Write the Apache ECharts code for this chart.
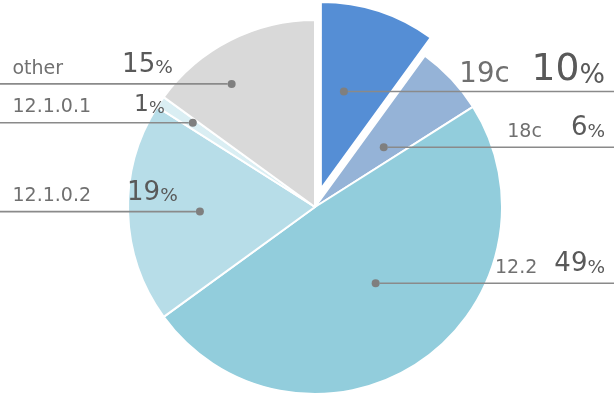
<!DOCTYPE html>
<html><head><meta charset="utf-8">
<script src="https://cdn.jsdelivr.net/npm/echarts@6/dist/echarts.min.js"></script>
<style>html,body{margin:0;padding:0;background:#fff}#c{width:616px;height:397px}</style>
</head><body><div id="c"></div>
<script>
// ---- data ----
const categories = ['19c', '18c', '12.2', '12.1.0.2', '12.1.0.1', 'other'];
const shares = [10, 6, 49, 19, 1, 15];
const selectedCategory = '19c';

// ---- styles / layout ----
const sliceColors = ['#558ED5', '#95B3D7', '#92CDDC', '#B7DDE8', '#DAEEF3', '#D9D9D9'];
const labelSide = ['right', 'right', 'right', 'left', 'left', 'left'];
const dotRadiusFrac = [0.535, 0.487, 0.521, 0.616, 0.794, 0.795];
const dotAngleShift = [-4.7, 2.2, -4.3, -0.5, 0.4, -7.1];
const nameScale = [1.45, 1, 1, 1, 1, 1];
const numScale = [1.45, 1, 1, 1, 0.9, 1];
const nameGap = [22, 29, 17, 36, 43, 59];

const CX = 315, CY = 207, R = 187, SEL_OFF = 19;
const RIGHT_EDGE = 614, DOT = 8;
const total = shares.reduce((a, b) => a + b, 0);
function midAngle(i) {
  let s = 0;
  for (let k = 0; k < i; k++) s += shares[k];
  return (s + shares[i] / 2) / total * 360;
}
function dotPos(i) {
  let cx = CX, cy = CY;
  if (categories[i] === selectedCategory) {
    const m = midAngle(i) * Math.PI / 180;
    cx += SEL_OFF * Math.sin(m);
    cy -= SEL_OFF * Math.cos(m);
  }
  const a = (midAngle(i) + dotAngleShift[i]) * Math.PI / 180;
  const r = R * dotRadiusFrac[i];
  return [cx + r * Math.sin(a), cy - r * Math.cos(a)];
}

const FONT = '"DejaVu Sans", Verdana, sans-serif';
const pieData = categories.map((name, i) => ({
  name: name,
  value: shares[i],
  selected: name === selectedCategory,
  itemStyle: { color: sliceColors[i] }
}));
const textData = categories.map((name, i) => {
  const ns = nameScale[i], vs = numScale[i];
  const lh = 26 * Math.max(ns, vs);
  return {
    name: name,
    value: shares[i],
    label: {
      rich: {
        n: { fontFamily: FONT, fontSize: 19 * ns, lineHeight: lh, color: '#707070', verticalAlign: 'bottom', padding: [0, nameGap[i], 0, 0] },
        v: { fontFamily: FONT, fontSize: 26 * vs, lineHeight: lh, color: '#595959', verticalAlign: 'bottom' },
        p: { fontFamily: FONT, fontSize: 18.5 * vs, lineHeight: lh, color: '#595959', verticalAlign: 'bottom' }
      }
    }
  };
});
const guideData = categories.map((name, i) => {
  const d = dotPos(i);
  const right = labelSide[i] === 'right';
  const len = right ? RIGHT_EDGE - d[0] - DOT / 2 : d[0] - DOT / 2;
  return {
    name: name,
    value: shares[i],
    label: {
      formatter: right ? '{d|}{l|}' : '{l|}{d|}',
      rich: {
        d: { width: DOT, height: DOT, borderRadius: DOT / 2, backgroundColor: '#7f7f7f', verticalAlign: 'middle' },
        l: { width: len, height: 1.6, backgroundColor: '#8a8a8a', verticalAlign: 'middle' }
      }
    }
  };
});

const overlayBase = {
  type: 'pie',
  silent: true,
  center: [CX, CY],
  radius: R,
  startAngle: 90,
  clockwise: true,
  avoidLabelOverlap: false,
  emphasis: { disabled: true },
  itemStyle: { color: 'rgba(0,0,0,0)', borderWidth: 0 },
  labelLine: { show: false }
};

const chart = echarts.init(document.getElementById('c'), null, { renderer: 'canvas' });
chart.setOption({
  animation: false,
  backgroundColor: '#ffffff',
  series: [
    {
      type: 'pie',
      center: [CX, CY],
      radius: R,
      startAngle: 90,
      clockwise: true,
      selectedMode: 'single',
      selectedOffset: SEL_OFF,
      emphasis: { disabled: true },
      itemStyle: { borderColor: '#ffffff', borderWidth: 2 },
      select: { itemStyle: { borderColor: '#ffffff', borderWidth: 2 } },
      label: { show: false },
      labelLine: { show: false },
      data: pieData
    },
    Object.assign({}, overlayBase, {
      label: { show: true, position: 'inside' },
      labelLayout: function (p) {
        const i = p.dataIndex;
        const d = dotPos(i);
        const right = labelSide[i] === 'right';
        return { x: right ? d[0] - DOT / 2 : 0, y: d[1], align: 'left', verticalAlign: 'middle' };
      },
      data: guideData
    }),
    Object.assign({}, overlayBase, {
      label: {
        show: true,
        position: 'inside',
        formatter: p => '{n|' + p.name + '}{v|' + p.value + '}{p|%}'
      },
      labelLayout: function (p) {
        const i = p.dataIndex;
        const d = dotPos(i);
        const right = labelSide[i] === 'right';
        const fs = 26 * Math.max(nameScale[i], numScale[i]);
        return {
          x: right ? 605 : 12.5,
          y: d[1] - 5.8 + (fs - 26) * 0.28,
          align: right ? 'right' : 'left',
          verticalAlign: 'bottom'
        };
      },
      data: textData
    })
  ]
});
</script></body></html>
